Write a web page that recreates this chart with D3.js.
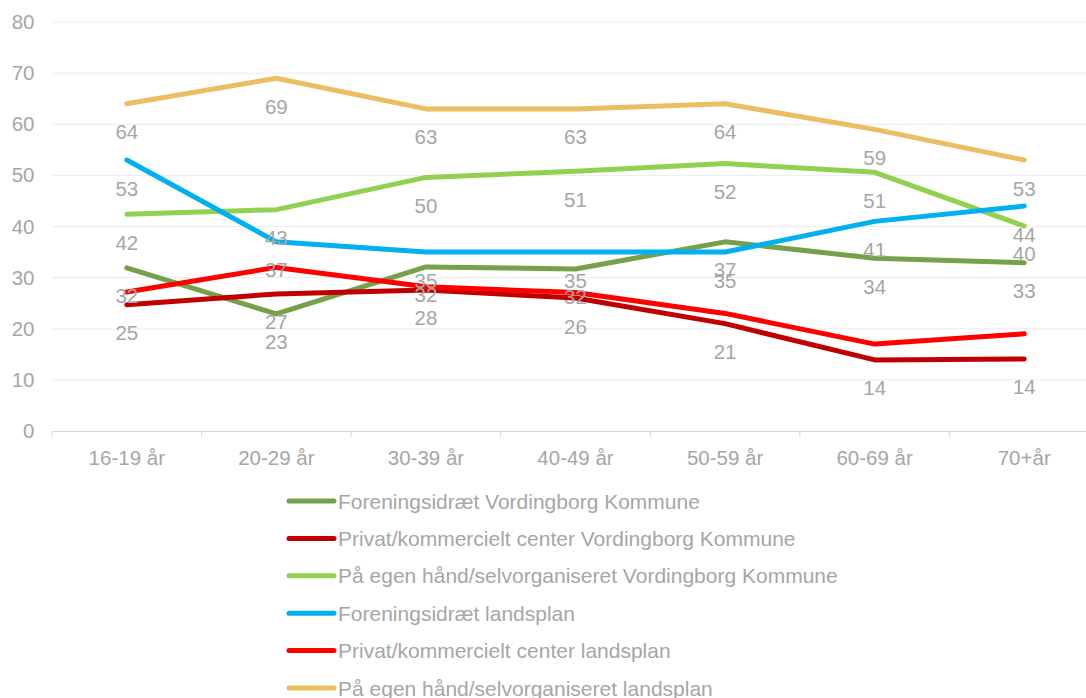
<!DOCTYPE html>
<html>
<head>
<meta charset="utf-8">
<script src="https://cdn.jsdelivr.net/npm/d3@7"></script>
<style>
  html, body { margin: 0; padding: 0; background: #fff; }
  svg { display: block; font-family: Arial, "Liberation Sans", sans-serif; }
</style>
</head>
<body>
<svg id="chart" width="1086" height="698"></svg>
<script>
const categories = ["16-19 år", "20-29 år", "30-39 år", "40-49 år", "50-59 år", "60-69 år", "70+år"];
const seriesNames = [
  "Foreningsidræt Vordingborg Kommune",
  "Privat/kommercielt center Vordingborg Kommune",
  "På egen hånd/selvorganiseret Vordingborg Kommune",
  "Foreningsidræt landsplan",
  "Privat/kommercielt center landsplan",
  "På egen hånd/selvorganiseret landsplan"
];
const foreningVordingborg = [31.9, 22.9, 32.1, 31.7, 37.0, 33.8, 32.9];
const privatVordingborg   = [24.7, 26.8, 27.6, 26.0, 21.0, 13.9, 14.1];
const egenVordingborg     = [42.4, 43.3, 49.6, 50.8, 52.3, 50.6, 40.1];
const foreningLandsplan   = [53.0, 37.0, 35.0, 35.0, 35.0, 41.0, 44.0];
const privatLandsplan     = [27.2, 32.0, 28.2, 27.1, 23.0, 17.0, 19.0];
const egenLandsplan       = [64.0, 69.0, 63.0, 63.0, 64.0, 59.0, 53.0];
const seriesValues = [foreningVordingborg, privatVordingborg, egenVordingborg, foreningLandsplan, privatLandsplan, egenLandsplan];
const seriesColors = ["#77a04a", "#c00000", "#92d050", "#00b0f0", "#ff0000", "#eabf62"];
const showLabels = [true, true, true, true, false, true];
const yTicks = [0, 10, 20, 30, 40, 50, 60, 70, 80];

const svg = d3.select("#chart");
const x = d3.scaleBand().domain(categories).range([52, 1099]);
const y = d3.scaleLinear().domain([0, 80]).range([431, 22]);
const cx = d => x(d) + x.bandwidth() / 2;
const textColor = "#a6a6a6";

// gridlines
svg.append("g").selectAll("line").data(yTicks.filter(t => t > 0)).join("line")
  .attr("x1", 52).attr("x2", 1099)
  .attr("y1", d => y(d)).attr("y2", d => y(d))
  .attr("stroke", "#ececec").attr("stroke-width", 1);

// y axis labels
const yAxis = d3.axisLeft(y).tickValues(yTicks).tickSize(0).tickPadding(0);
const yg = svg.append("g").attr("transform", "translate(34.5,0)").call(yAxis);
yg.select(".domain").remove();
yg.selectAll("text").attr("fill", textColor).style("font-size", "20.5px")
  .style("font-family", "Arial, 'Liberation Sans', sans-serif");

// x axis
const xAxis = d3.axisBottom(x).tickSize(0).tickPadding(0);
const xg = svg.append("g").attr("transform", "translate(0,431)").call(xAxis);
xg.select(".domain").attr("stroke", "#d9d9d9");
xg.selectAll("text").attr("fill", textColor).style("font-size", "20.5px")
  .style("font-family", "Arial, 'Liberation Sans', sans-serif")
  .attr("dy", "0").attr("y", 33.5);
// band boundary ticks
svg.append("g").selectAll("line").data(d3.range(categories.length + 1)).join("line")
  .attr("x1", i => 52 + x.step() * i).attr("x2", i => 52 + x.step() * i)
  .attr("y1", 431).attr("y2", 437).attr("stroke", "#d9d9d9");

// lines
const line = d3.line().x((d, i) => cx(categories[i])).y(d => y(d));
seriesValues.forEach((vals, s) => {
  svg.append("path").datum(vals)
    .attr("d", line)
    .attr("fill", "none")
    .attr("stroke", seriesColors[s])
    .attr("stroke-width", 5)
    .attr("stroke-linecap", "round")
    .attr("stroke-linejoin", "round");
});

// data labels
const fmt = d3.format(".0f");
seriesValues.forEach((vals, s) => {
  if (!showLabels[s]) return;
  svg.append("g").selectAll("text").data(vals).join("text")
    .attr("x", (d, i) => cx(categories[i]))
    .attr("y", d => y(d) + 28)
    .attr("text-anchor", "middle")
    .attr("dominant-baseline", "central")
    .attr("fill", textColor)
    .style("font-size", "20.5px")
    .text(d => fmt(d));
});

// legend
const lg = svg.append("g");
seriesNames.forEach((name, i) => {
  const yy = 501 + i * 37.4;
  lg.append("line").attr("x1", 289).attr("x2", 334).attr("y1", yy).attr("y2", yy)
    .attr("stroke", seriesColors[i]).attr("stroke-width", 5).attr("stroke-linecap", "round");
  lg.append("text").attr("x", 338).attr("y", yy).attr("dominant-baseline", "central")
    .attr("fill", textColor).style("font-size", "21px").text(name);
});
</script>
</body>
</html>
